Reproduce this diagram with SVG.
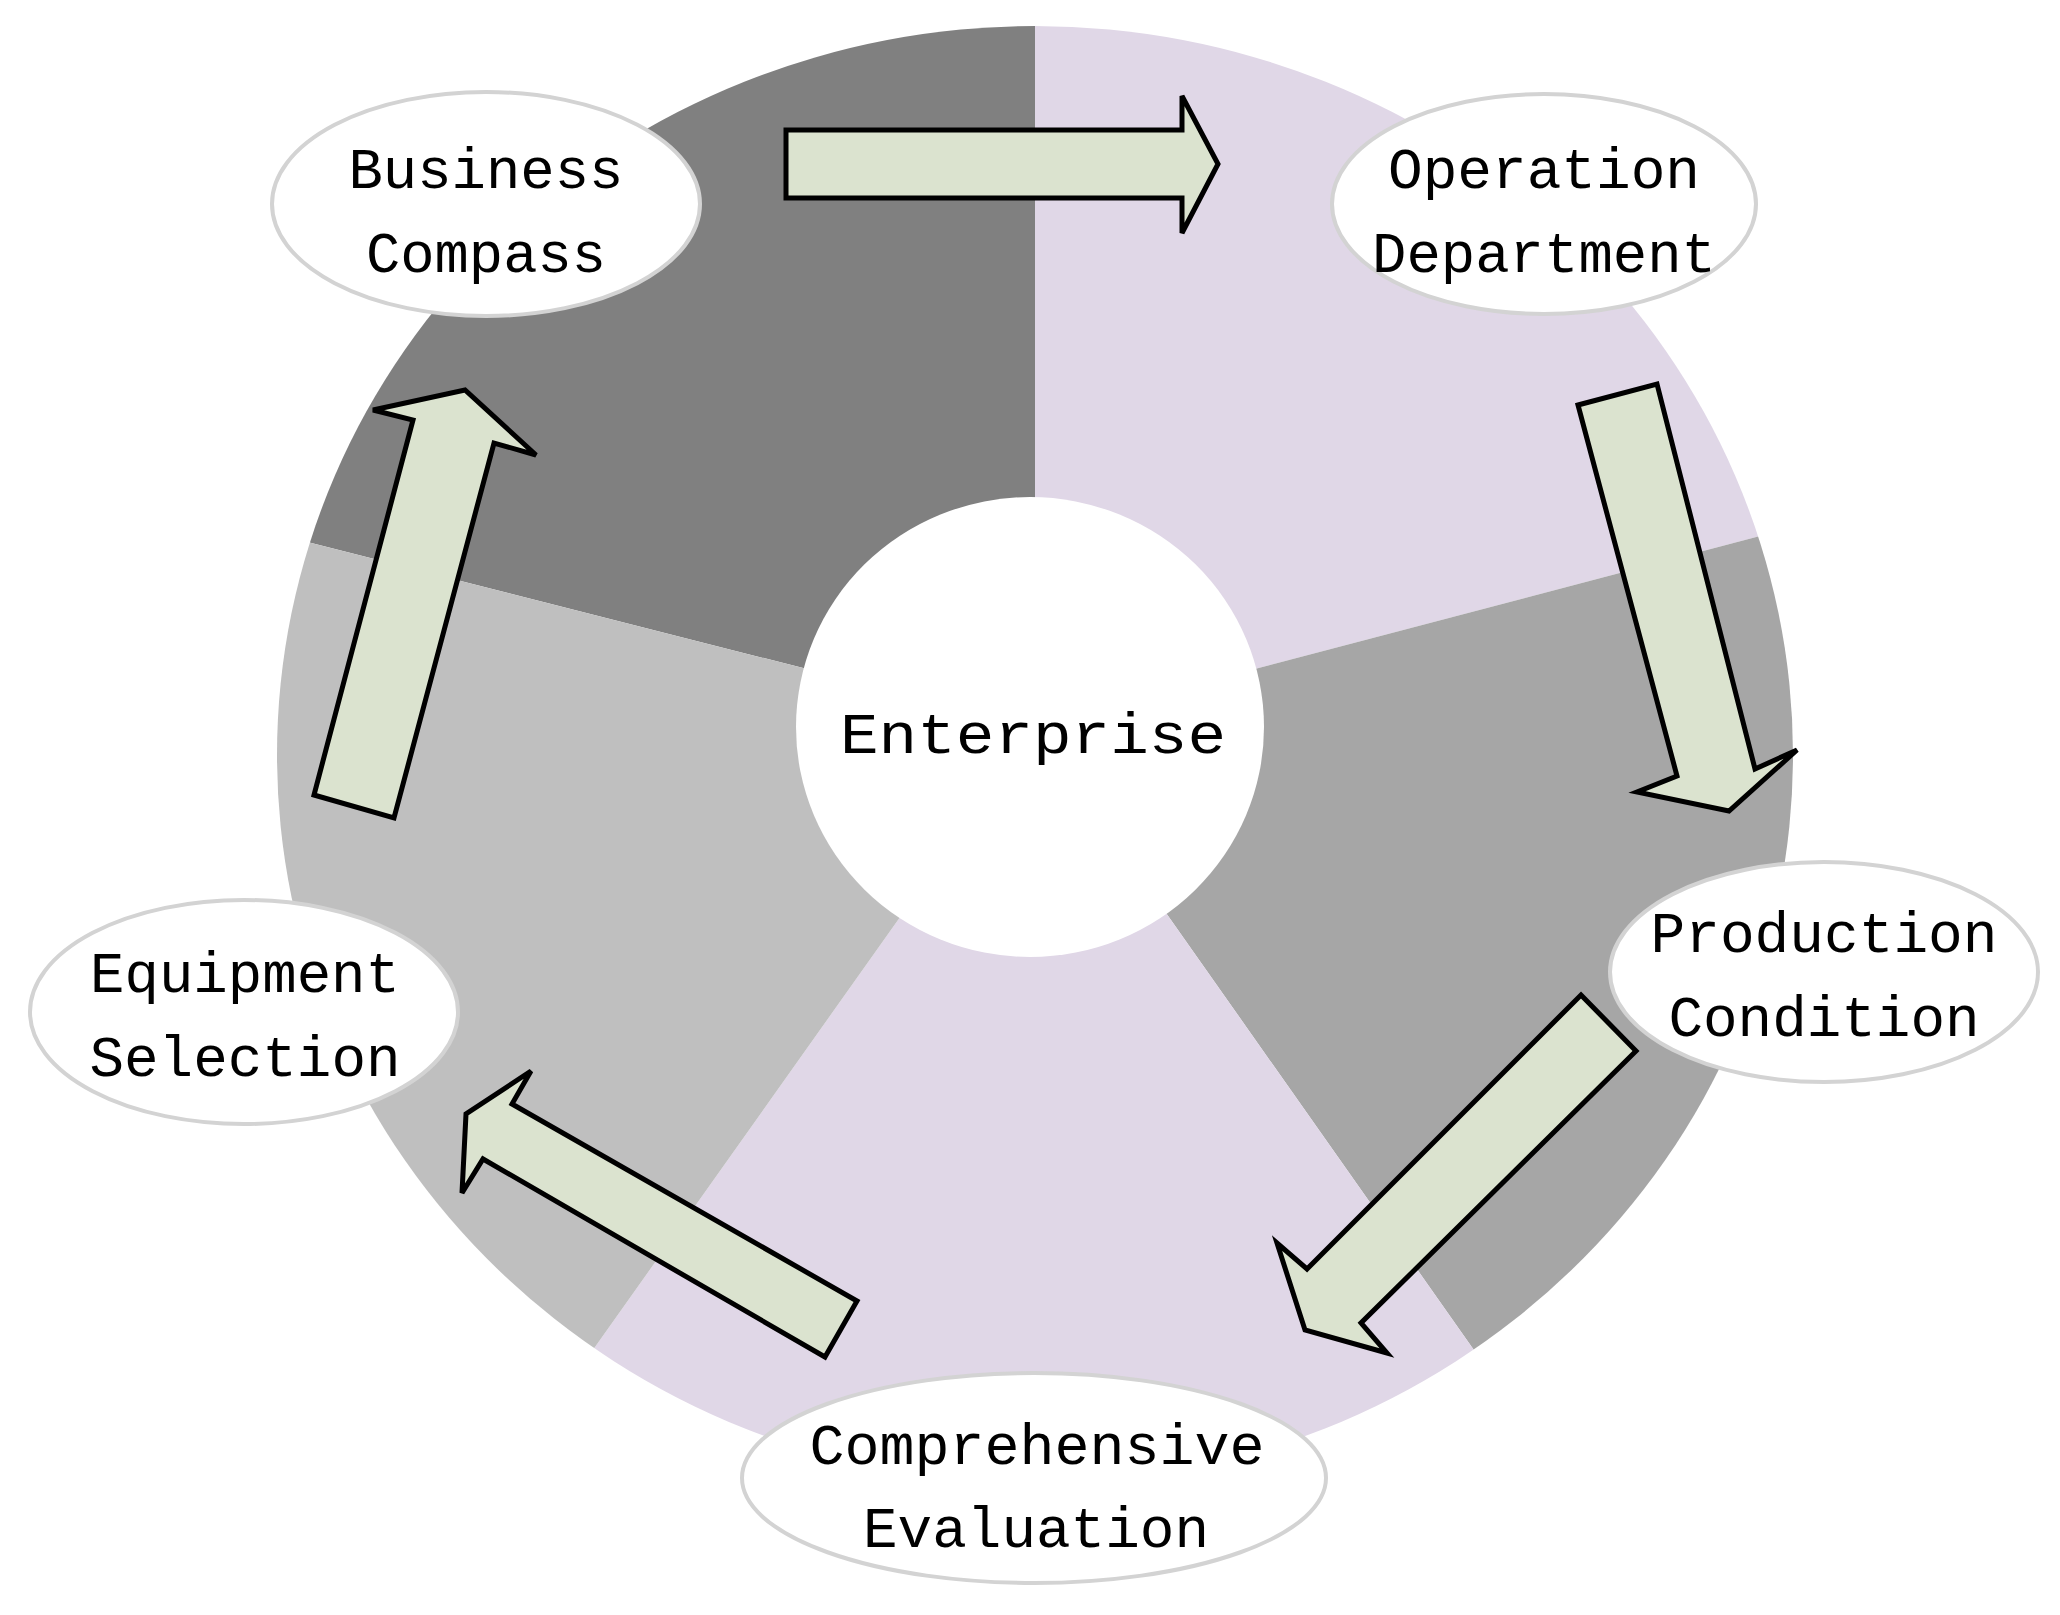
<svg xmlns="http://www.w3.org/2000/svg" width="2060" height="1615" viewBox="0 0 2060 1615">
<style>
.n{fill:#fff;stroke:#d3d3d3;stroke-width:4}
.t{font-family:"Liberation Mono",monospace;font-size:58px;fill:#000;text-anchor:middle}
.a{fill:#dbe3cf;stroke:#000;stroke-width:5;stroke-linejoin:miter}
</style>
<defs><clipPath id="c"><ellipse cx="1035" cy="755" rx="758" ry="729"/></clipPath></defs>
<rect width="2060" height="1615" fill="#fff"/>
<g id="wheel" clip-path="url(#c)">
<polygon fill="#808080" points="1035,727 1035,-500 -500,-500 -413,359"/>
<polygon fill="#e0d7e7" points="1035,727 1035,-500 2600,-500 2485,345"/>
<polygon fill="#a6a6a6" points="1035,727 2485,345 2600,2000 1903,1959"/>
<polygon fill="#e0d7e7" points="1035,727 1903,1959 165,1953"/>
<polygon fill="#bfbfbf" points="1035,727 165,1953 -500,1953 -413,359"/>
</g>
<g id="center"><ellipse cx="1030" cy="727" rx="234" ry="230" fill="#fff"/><text class="t" x="1033" y="753" textLength="386" lengthAdjust="spacingAndGlyphs">Enterprise</text></g>
<g id="connectors">
<polygon class="a" points="786,130 1182,130 1182,96 1218,164 1182,233 1182,198 786,198"/>
<polygon class="a" points="1578,405 1657,384 1755,769 1797,750 1729,811 1637,792 1677,776"/>
<polygon class="a" points="1581,995 1636,1051 1361,1323 1387,1353 1305,1330 1277,1243 1307,1269"/>
<polygon class="a" points="825,1357 857,1301 512,1104 531,1071 466,1114 462,1193 483,1159"/>
<polygon class="a" points="314,795 394,818 494,443 536,455 465,390 373,410 413,420"/>
</g>
<g id="business"><ellipse class="n" cx="486" cy="204" rx="214" ry="112"/><text class="t" x="486" y="188" textLength="275" lengthAdjust="spacingAndGlyphs">Business</text><text class="t" x="486" y="272" textLength="240" lengthAdjust="spacingAndGlyphs">Compass</text></g>
<g id="operation"><ellipse class="n" cx="1544" cy="204" rx="212" ry="110"/><text class="t" x="1544" y="188" textLength="312" lengthAdjust="spacingAndGlyphs">Operation</text><text class="t" x="1544" y="272" textLength="344" lengthAdjust="spacingAndGlyphs">Department</text></g>
<g id="production"><ellipse class="n" cx="1824" cy="972" rx="214" ry="110"/><text class="t" x="1824" y="952" textLength="347" lengthAdjust="spacingAndGlyphs">Production</text><text class="t" x="1824" y="1036" textLength="311" lengthAdjust="spacingAndGlyphs">Condition</text></g>
<g id="comprehensive"><ellipse class="n" cx="1034" cy="1478" rx="292" ry="105"/><text class="t" x="1037" y="1464" textLength="455" lengthAdjust="spacingAndGlyphs">Comprehensive</text><text class="t" x="1036" y="1547" textLength="346" lengthAdjust="spacingAndGlyphs">Evaluation</text></g>
<g id="equipment"><ellipse class="n" cx="244" cy="1012" rx="214" ry="112"/><text class="t" x="245" y="992" textLength="310" lengthAdjust="spacingAndGlyphs">Equipment</text><text class="t" x="245" y="1076" textLength="311" lengthAdjust="spacingAndGlyphs">Selection</text></g>
</svg>
